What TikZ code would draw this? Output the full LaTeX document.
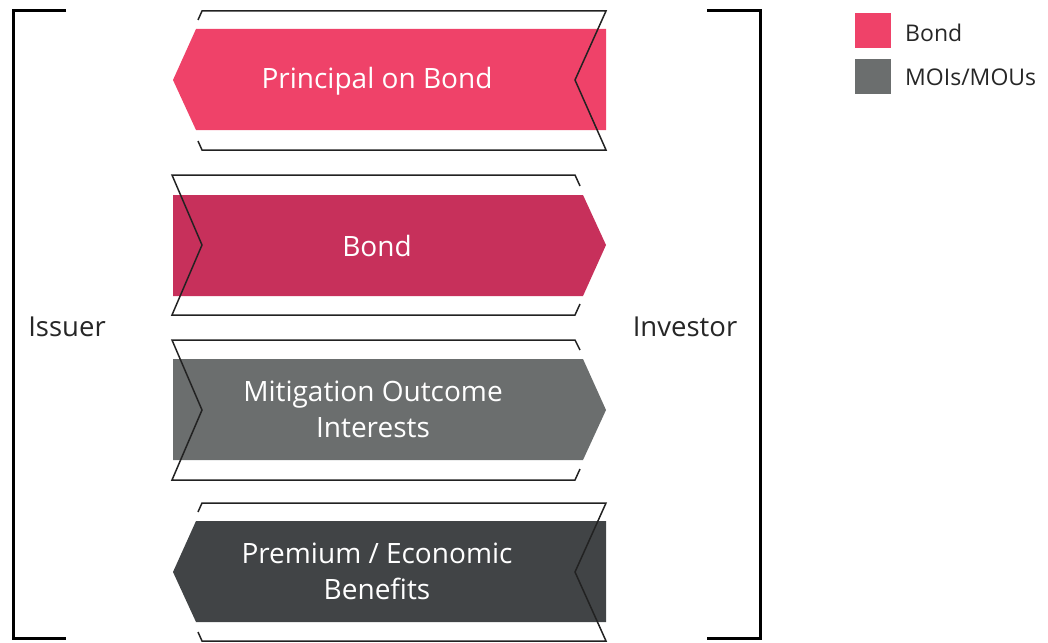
\documentclass[tikz,border=0pt]{standalone}
\usepackage{fontspec}
\setmainfont{Open Sans}
\definecolor{pinkc}{HTML}{EF4269}
\definecolor{crimc}{HTML}{C7305B}
\definecolor{grayc}{HTML}{6B6E6E}
\definecolor{darkc}{HTML}{414446}
\definecolor{linec}{HTML}{222222}
\tikzset{
  outl/.style={draw=linec, line width=1.5pt, line join=miter},
  brk/.style={draw=black, line width=3pt},
  lbl/.style={text=white, font=\fontsize{28}{36}\selectfont, align=center, inner sep=0pt},
  side/.style={text=black!85, font=\fontsize{27.5}{32}\selectfont, inner sep=0pt},
  leg/.style={text=black!85, font=\fontsize{23}{26}\selectfont, inner sep=0pt, anchor=west},
}
\begin{document}
\begin{tikzpicture}[x=1pt,y=-1pt]
\useasboundingbox (0,0) rectangle (1048,642);
% brackets
\draw[brk] (66,11) -- (13,11) -- (13,638) -- (66,638);
\draw[brk] (707,11) -- (760,11) -- (760,638) -- (707,638);
\node[side] (issuer) at (67,327) {Issuer};
\node[side] (investor) at (685,327) {Investor};
% arrow 1 (left)
\fill[pinkc] (196,29) -- (606,29) -- (606,130) -- (196,130) -- (173,80) -- cycle;
\draw[outl] (198,20) -- (202,11) -- (606,11) -- (575,80) -- (606,150) -- (202,150) -- (198,141);
\node[lbl] (a1) at (377,81) {Principal on Bond};
% arrow 2 (right)
\fill[crimc] (173,195) -- (583,195) -- (606,245) -- (583,296) -- (173,296) -- cycle;
\draw[outl] (580,186) -- (575,175) -- (172,175) -- (202,245) -- (172,315) -- (575,315) -- (580,304);
\node[lbl] (a2) at (377,246) {Bond};
% arrow 3 (right)
\fill[grayc] (173,359) -- (583,359) -- (606,410) -- (583,460) -- (173,460) -- cycle;
\draw[outl] (580,350) -- (575,340) -- (172,340) -- (202,410) -- (172,480) -- (575,480) -- (580,469);
\node[lbl] (a3) at (373,409) {Mitigation Outcome\\Interests};
% arrow 4 (left)
\fill[darkc] (196,521) -- (606,521) -- (606,622) -- (196,622) -- (173,572) -- cycle;
\draw[outl] (198,512) -- (202,503) -- (606,503) -- (575,572) -- (606,641) -- (202,641) -- (198,632);
\node[lbl] (a4) at (377,571) {Premium / Economic\\Benefits};
% legend
\fill[pinkc] (855,13) rectangle (891,48);
\fill[grayc] (855,59) rectangle (891,94);
\node[leg] (l1) at (905,33) {Bond};
\node[leg] (l2) at (905,77) {MOIs/MOUs};
\end{tikzpicture}
\end{document}
